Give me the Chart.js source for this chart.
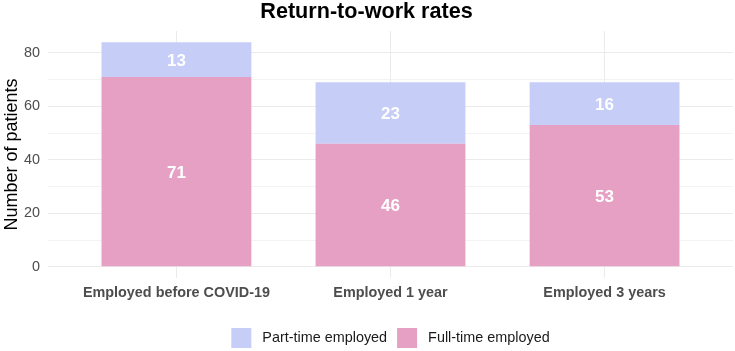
<!DOCTYPE html>
<html>
<head>
<meta charset="utf-8">
<script src="https://cdn.jsdelivr.net/npm/chart.js@4/dist/chart.umd.min.js"></script>
<style>
html,body{margin:0;padding:0;background:#fff;}
#wrap{width:735px;height:351px;position:relative;}
</style>
</head>
<body>
<div id="wrap"><canvas id="c" width="735" height="351"></canvas></div>
<script>
const categories = ['Employed before COVID-19', 'Employed 1 year', 'Employed 3 years'];
const fullTime = [71, 46, 53];
const partTime = [13, 23, 16];
const seriesNames = ['Full-time employed', 'Part-time employed'];
const majorTicks = [0, 20, 40, 60, 80];
const minorTicks = [10, 30, 50, 70];
const chartTitle = 'Return-to-work rates';
const yTitle = 'Number of patients';

const FONT = "'Liberation Sans', Arial, Helvetica, sans-serif";

const valueLabels = {
  id: 'valueLabels',
  afterDatasetsDraw(chart) {
    const ctx = chart.ctx;
    ctx.save();
    ctx.fillStyle = '#FFFFFF';
    ctx.font = 'bold 17px ' + FONT;
    ctx.textAlign = 'center';
    ctx.textBaseline = 'middle';
    chart.data.datasets.forEach((ds, di) => {
      const meta = chart.getDatasetMeta(di);
      meta.data.forEach((el, i) => {
        const p = el.getProps(['x', 'y', 'base'], true);
        ctx.fillText(String(ds.data[i].y), p.x, (p.y + p.base) / 2 + 1.5);
      });
    });
    ctx.restore();
  }
};

// bottom legend (reverse dataset order), centred under the panel
const bottomLegend = {
  id: 'bottomLegend',
  afterDraw(chart) {
    const ctx = chart.ctx;
    const items = chart.data.datasets.map(d => ({ text: d.label, color: d.backgroundColor })).reverse();
    const box = 20, gapText = 11, gapItem = 10;
    ctx.save();
    ctx.font = '14.4px ' + FONT;
    const widths = items.map(it => box + gapText + ctx.measureText(it.text).width);
    const total = widths.reduce((a, b) => a + b, 0) + gapItem * (items.length - 1);
    const ca = chart.chartArea;
    let x = (ca.left + ca.right) / 2 - total / 2;
    const yTop = chart.height - 23;
    ctx.textBaseline = 'middle';
    ctx.textAlign = 'left';
    items.forEach((it, i) => {
      ctx.fillStyle = it.color;
      ctx.fillRect(x, yTop, box, box);
      ctx.fillStyle = '#1A1A1A';
      ctx.fillText(it.text, x + box + gapText, yTop + box / 2 + 0.5);
      x += widths[i] + gapItem;
    });
    ctx.restore();
  }
};

const allYTicks = majorTicks.concat(minorTicks).sort((a, b) => a - b);

new Chart(document.getElementById('c'), {
  type: 'bar',
  data: {
    datasets: [
      {
        label: seriesNames[0],
        data: fullTime.map((v, i) => ({ x: i + 1, y: v })),
        backgroundColor: '#E6A0C4',
        barPercentage: 0.7,
        categoryPercentage: 1.0
      },
      {
        label: seriesNames[1],
        data: partTime.map((v, i) => ({ x: i + 1, y: v })),
        backgroundColor: '#C6CDF7',
        barPercentage: 0.7,
        categoryPercentage: 1.0
      }
    ]
  },
  options: {
    responsive: false,
    animation: false,
    devicePixelRatio: 1,
    layout: { padding: { left: 0, right: 2, top: 0, bottom: 30 } },
    plugins: {
      tooltip: { enabled: false },
      legend: { display: false },
      title: {
        display: true,
        text: chartTitle,
        color: '#000000',
        font: { family: FONT, size: 21.6, weight: 'bold', lineHeight: 1 },
        padding: { top: 1, bottom: 8.4 }
      }
    },
    scales: {
      x: {
        type: 'linear',
        stacked: true,
        offset: false,
        min: 0.4,
        max: 3.6,
        afterBuildTicks: s => { s.ticks = categories.map((c, i) => ({ value: i + 1 })); },
        afterFit: s => { s.height = 43; },
        ticks: {
          autoSkip: false,
          maxRotation: 0,
          padding: 6,
          color: '#4D4D4D',
          font: { family: FONT, size: 14.4, weight: 'bold' },
          callback: v => categories[v - 1]
        },
        grid: { color: '#EBEBEB', lineWidth: 1, drawTicks: false, offset: false },
        border: { display: false }
      },
      y: {
        stacked: true,
        min: -4.2,
        max: 88.2,
        afterBuildTicks: s => { s.ticks = allYTicks.map(v => ({ value: v })); },
        afterFit: s => { s.width = 48; },
        ticks: {
          autoSkip: false,
          padding: 8,
          color: '#4D4D4D',
          font: { family: FONT, size: 14.4 },
          callback: v => (majorTicks.includes(v) ? String(v) : '')
        },
        grid: {
          color: '#EBEBEB',
          lineWidth: c => (c.tick && minorTicks.includes(c.tick.value) ? 0.6 : 1),
          drawTicks: false
        },
        border: { display: false },
        title: {
          display: true,
          text: yTitle,
          color: '#000000',
          font: { family: FONT, size: 18 },
          padding: { top: 1, bottom: 2 }
        }
      }
    }
  },
  plugins: [valueLabels, bottomLegend]
});
</script>
</body>
</html>
